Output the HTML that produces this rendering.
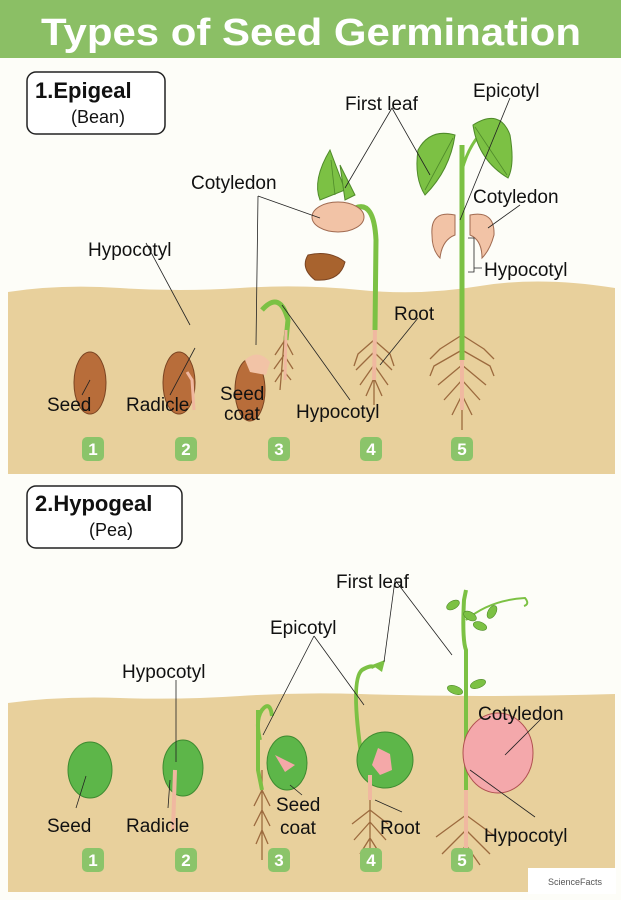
<!DOCTYPE html>
<html><head><meta charset="utf-8"><style>
html,body{margin:0;padding:0;background:#fff;}
svg{display:block}
text{font-family:"Liberation Sans",sans-serif;}
</style></head><body>
<svg width="621" height="900" viewBox="0 0 621 900" xmlns="http://www.w3.org/2000/svg">
<rect width="621" height="900" fill="#fdfdf8"/>
<rect width="621" height="58" fill="#8bbf65"/>
<text x="311" y="45" font-size="38" font-weight="bold" fill="#fff" text-anchor="middle" textLength="540" lengthAdjust="spacingAndGlyphs">Types of Seed Germination</text>

<path d="M8 292 Q60 284 120 288 T240 288 T360 290 T480 286 T615 288 L615 474 L8 474Z" fill="#e8d09c"/>
<path d="M8 703 Q60 696 120 698 T240 696 T360 694 T480 696 T615 694 L615 892 L8 892Z" fill="#e8d09c"/>

<rect x="27" y="72" width="138" height="62" rx="9" fill="#fff" stroke="#222" stroke-width="1.5"/>
<text x="35" y="98" font-size="22" font-weight="bold" fill="#111">1.Epigeal</text>
<text x="71" y="123" font-size="18" fill="#111">(Bean)</text>
<rect x="27" y="486" width="155" height="62" rx="9" fill="#fff" stroke="#222" stroke-width="1.5"/>
<text x="35" y="511" font-size="22" font-weight="bold" fill="#111">2.Hypogeal</text>
<text x="89" y="536" font-size="18" fill="#111">(Pea)</text>

<g fill="none" stroke="#9c6a3e" stroke-width="1.3">
<path d="M285 330 L280 390 M285 340 l-10 15 M285 340 l8 15 M284 355 l-10 14 M284 355 l9 14 M283 370 l-8 12 M283 370 l8 10"/>
<path d="M374 330 L374 405 M374 340 l-16 14 l-4 12 M374 340 l16 14 l4 12 M374 352 l-18 18 M374 352 l18 18 M374 365 l-14 20 M374 365 l14 20 M374 378 l-8 18 M374 378 l8 18"/>
<path d="M462 325 L462 430 M462 335 l-22 14 l-10 10 M462 335 l22 14 l10 10 M462 350 l-28 16 l-4 10 M462 350 l28 16 l4 10 M462 365 l-24 20 M462 365 l24 20 M462 380 l-18 20 M462 380 l18 20 M462 395 l-10 20 M462 395 l10 20"/>
<path d="M262 770 L262 860 M262 790 l-8 16 M262 790 l8 16 M262 810 l-8 16 M262 810 l8 16 M262 830 l-6 14 M262 830 l6 14"/>
<path d="M370 790 L370 862 M370 810 l-18 14 M370 810 l18 14 M370 822 l-16 18 M370 822 l16 18 M370 838 l-10 16 M370 838 l10 16"/>
<path d="M466 790 L466 870 M466 815 l-30 22 M466 815 l30 22 M466 830 l-24 24 M466 830 l24 24 M466 845 l-14 20 M466 845 l14 20"/>
</g>

<ellipse cx="90" cy="383" rx="16" ry="31" fill="#b86d3a" stroke="#7a4422"/>
<ellipse cx="179" cy="383" rx="16" ry="31" fill="#b86d3a" stroke="#7a4422"/>
<path d="M187 372 L192 380 L194 410" stroke="#f0b8a0" stroke-width="3" fill="none"/>
<ellipse cx="250" cy="390" rx="15" ry="31" fill="#b86d3a" stroke="#7a4422"/>
<path d="M245 360 Q258 348 270 362 L266 375 L250 372Z" fill="#f2c3a6"/>
<path d="M262 310 Q280 290 288 320 L286 340" stroke="#7cc144" stroke-width="5" fill="none"/>
<path d="M286 330 L285 380" stroke="#f0b8a0" stroke-width="3"/>
<path d="M355 208 Q374 200 376 240 L375 330" stroke="#7cc144" stroke-width="5" fill="none"/>
<path d="M375 330 L374 380" stroke="#f0b8a0" stroke-width="4"/>
<path d="M330 150 L345 190 L320 200 Q312 180 330 150Z" fill="#7cc144" stroke="#4f8a2a"/>
<path d="M340 165 L355 195 L345 200 Z" fill="#7cc144" stroke="#4f8a2a"/>
<path d="M331 160 L335 195" stroke="#4f8a2a" stroke-width="0.8"/>
<ellipse cx="338" cy="217" rx="26" ry="15" fill="#f2c3a6" stroke="#a06a50"/>
<path d="M308 255 Q330 250 345 262 Q340 282 315 280 Q300 268 308 255Z" fill="#a8632e" stroke="#7a4422"/>
<path d="M462 360 L462 145" stroke="#7cc144" stroke-width="5"/>
<path d="M462 360 L462 410" stroke="#f0b8a0" stroke-width="4"/>
<path d="M462 170 Q470 140 490 125" stroke="#7cc144" stroke-width="3" fill="none"/>
<path d="M455 135 Q430 128 418 150 Q414 178 425 195 Q450 170 455 135Z" fill="#7cc144" stroke="#4f8a2a"/>
<path d="M473 125 Q500 108 510 135 Q515 165 508 178 Q478 160 473 125Z" fill="#7cc144" stroke="#4f8a2a"/>
<path d="M453 138 L425 190 M475 127 L507 175" stroke="#4f8a2a" stroke-width="0.8"/>
<path d="M455 215 Q430 210 432 235 Q432 250 440 258 Q442 240 455 235Z" fill="#f2c3a6" stroke="#a06a50"/>
<path d="M470 215 Q495 210 494 235 Q490 250 482 258 Q482 240 470 235Z" fill="#f2c3a6" stroke="#a06a50"/>

<ellipse cx="90" cy="770" rx="22" ry="28" fill="#5db649" stroke="#3e8a30"/>
<ellipse cx="183" cy="768" rx="20" ry="28" fill="#5db649" stroke="#3e8a30"/>
<path d="M175 770 L173 830" stroke="#f0b8a0" stroke-width="4"/>
<path d="M260 740 Q255 720 262 710 Q270 700 272 716" stroke="#7cc144" stroke-width="4" fill="none"/>
<path d="M258 710 L258 770 L262 790" stroke="#7cc144" stroke-width="4" fill="none"/>
<ellipse cx="287" cy="763" rx="20" ry="27" fill="#5db649" stroke="#3e8a30"/>
<path d="M275 755 L295 765 L285 772Z" fill="#f4a8a8"/>
<path d="M362 760 Q350 680 362 670 Q372 664 374 668" stroke="#7cc144" stroke-width="4" fill="none"/>
<path d="M372 665 L385 660 L382 672Z" fill="#7cc144"/>
<ellipse cx="385" cy="760" rx="28" ry="28" fill="#5db649" stroke="#3e8a30"/>
<path d="M378 748 L390 754 L392 770 L380 775 L372 765Z" fill="#f4a8a8"/>
<path d="M370 775 L370 800" stroke="#f0b8a0" stroke-width="4"/>
<path d="M466 790 L466 650 Q462 640 464 600 L466 590" stroke="#7cc144" stroke-width="4" fill="none"/>
<path d="M466 620 Q490 600 525 598 Q530 604 524 606" stroke="#7cc144" stroke-width="2" fill="none"/>
<g fill="#7cc144" stroke="#4f8a2a" stroke-width="0.6">
<ellipse cx="453" cy="605" rx="7" ry="4" transform="rotate(-30 453 605)"/>
<ellipse cx="470" cy="616" rx="7" ry="4" transform="rotate(30 470 616)"/>
<ellipse cx="492" cy="612" rx="7" ry="4" transform="rotate(-60 492 612)"/>
<ellipse cx="480" cy="626" rx="7" ry="4" transform="rotate(20 480 626)"/>
<ellipse cx="455" cy="690" rx="8" ry="4" transform="rotate(20 455 690)"/>
<ellipse cx="478" cy="684" rx="8" ry="4" transform="rotate(-20 478 684)"/>
</g>
<path d="M466 790 L466 860" stroke="#f0b8a0" stroke-width="4"/>
<ellipse cx="498" cy="753" rx="35" ry="40" fill="#f4a8ab" stroke="#b05050"/>

<g stroke="#222" stroke-width="0.8" fill="none">
<path d="M90 380 L82 395"/>
<path d="M146 243 L190 325"/>
<path d="M195 348 L170 395"/>
<path d="M258 196 L256 345 M258 196 L320 218"/>
<path d="M282 305 L350 400"/>
<path d="M392 108 L345 188 M392 108 L430 175"/>
<path d="M510 98 L460 220"/>
<path d="M520 205 L488 228"/>
<path d="M468 238 L474 238 L474 272 L468 272 M474 268 L482 268"/>
<path d="M418 318 L380 365"/>
<path d="M86 776 L76 808"/>
<path d="M176 680 L176 762 M170 780 L168 808"/>
<path d="M314 636 L263 735 M314 636 L364 705"/>
<path d="M395 580 L384 662 M395 580 L452 655"/>
<path d="M540 720 L505 755"/>
<path d="M290 785 L302 795"/>
<path d="M375 800 L402 812"/>
<path d="M470 770 L535 817"/>
</g>

<g font-size="19" fill="#111">
<text x="47" y="411">Seed</text>
<text x="126" y="411">Radicle</text>
<text x="220" y="400">Seed</text>
<text x="224" y="420">coat</text>
<text x="296" y="418">Hypocotyl</text>
<text x="88" y="256">Hypocotyl</text>
<text x="191" y="189">Cotyledon</text>
<text x="345" y="110">First leaf</text>
<text x="473" y="97">Epicotyl</text>
<text x="473" y="203">Cotyledon</text>
<text x="484" y="276">Hypocotyl</text>
<text x="394" y="320">Root</text>
<text x="47" y="832">Seed</text>
<text x="126" y="832">Radicle</text>
<text x="276" y="811">Seed</text>
<text x="280" y="834">coat</text>
<text x="380" y="834">Root</text>
<text x="484" y="842">Hypocotyl</text>
<text x="478" y="720">Cotyledon</text>
<text x="122" y="678">Hypocotyl</text>
<text x="270" y="634">Epicotyl</text>
<text x="336" y="588">First leaf</text>
</g>

<g fill="#8bc46a">
<rect x="82" y="437" width="22" height="24" rx="5"/><rect x="175" y="437" width="22" height="24" rx="5"/><rect x="268" y="437" width="22" height="24" rx="5"/><rect x="360" y="437" width="22" height="24" rx="5"/><rect x="451" y="437" width="22" height="24" rx="5"/>
<rect x="82" y="848" width="22" height="24" rx="5"/><rect x="175" y="848" width="22" height="24" rx="5"/><rect x="268" y="848" width="22" height="24" rx="5"/><rect x="360" y="848" width="22" height="24" rx="5"/><rect x="451" y="848" width="22" height="24" rx="5"/>
</g>
<g font-size="17" font-weight="bold" fill="#fff" text-anchor="middle">
<text x="93" y="455">1</text><text x="186" y="455">2</text><text x="279" y="455">3</text><text x="371" y="455">4</text><text x="462" y="455">5</text>
<text x="93" y="866">1</text><text x="186" y="866">2</text><text x="279" y="866">3</text><text x="371" y="866">4</text><text x="462" y="866">5</text>
</g>
<rect x="528" y="868" width="88" height="26" fill="#fff"/>
<text x="548" y="885" font-size="9" fill="#555">ScienceFacts</text>
</svg>
</body></html>
